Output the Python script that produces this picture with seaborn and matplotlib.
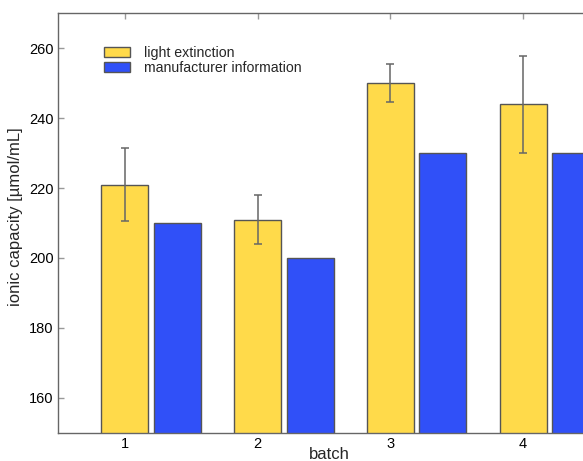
import matplotlib
matplotlib.use("Agg")
import matplotlib.pyplot as plt
import seaborn as sns
import pandas as pd
from matplotlib.patches import Patch

batches = ["1", "2", "3", "4"]
sources = ["light extinction", "manufacturer information"]
light_extinction = [221.0, 211.0, 250.0, 244.0]
light_extinction_err = [10.4, 7.0, 5.5, 13.9]
manufacturer = [210.0, 200.0, 230.0, 230.0]
colors = ["#FFDA4A", "#3050F8"]

df = pd.DataFrame({
    "batch": batches * 2,
    "source": [sources[0]] * 4 + [sources[1]] * 4,
    "value": light_extinction + manufacturer,
})

sns.set_theme(style="white")
plt.rcParams["font.family"] = ["Liberation Sans", "DejaVu Sans"]
plt.rcParams["font.size"] = 10.5

fig = plt.figure(figsize=(5.83, 4.61), dpi=100)
W, H = 583, 461
left, right, top, bottom = 58, 600, 13.3, 432.7
ax = fig.add_axes([left / W, 1 - bottom / H, (right - left) / W, (bottom - top) / H])

sns.barplot(data=df, x="batch", y="value", hue="source", order=batches,
            hue_order=sources, palette=colors, saturation=1, width=0.79, gap=0.106,
            errorbar=None, edgecolor="#555555", linewidth=1.0, legend=False, ax=ax)

# error bars on the light-extinction bars
yellow_patches = ax.patches[:4]
xs = [p.get_x() + p.get_width() / 2 for p in yellow_patches]
ax.errorbar(xs, light_extinction, yerr=light_extinction_err, fmt="none",
            ecolor="#666666", elinewidth=1.1, capsize=3, capthick=1.1, zorder=5)

ax.set_ylim(150, 270)
ax.set_yticks([160, 180, 200, 220, 240, 260])
ax.set_xticks(xs)
ax.set_xticklabels(batches)
ax.set_xlim(xs[0] - 0.504, xs[3] + (right - 523) / 133.0)

for s in ax.spines.values():
    s.set_color("#666666")
    s.set_linewidth(1.0)
ax.tick_params(direction="in", length=4, width=1, color="#999999",
               top=True, right=True, bottom=True, left=True,
               labelsize=10.5, labelcolor="black")
ax.tick_params(axis="x", pad=3)
ax.tick_params(axis="y", pad=3)

ax.set_xlabel("batch", fontsize=12, labelpad=-2.5)
ax.set_ylabel("ionic capacity [µmol/mL]", fontsize=12)
ax.yaxis.set_label_coords(-0.065, 0.515)

handles = [Patch(facecolor=c, edgecolor="#555555", linewidth=1.0) for c in colors]
ax.legend(handles, sources, loc="upper left", bbox_to_anchor=(0.0747, 0.935),
          frameon=False, fontsize=10.2, handlelength=1.8, handleheight=0.7,
          handletextpad=1.0, labelspacing=0.05, borderaxespad=0)

fig.savefig("out.png", dpi=100)
